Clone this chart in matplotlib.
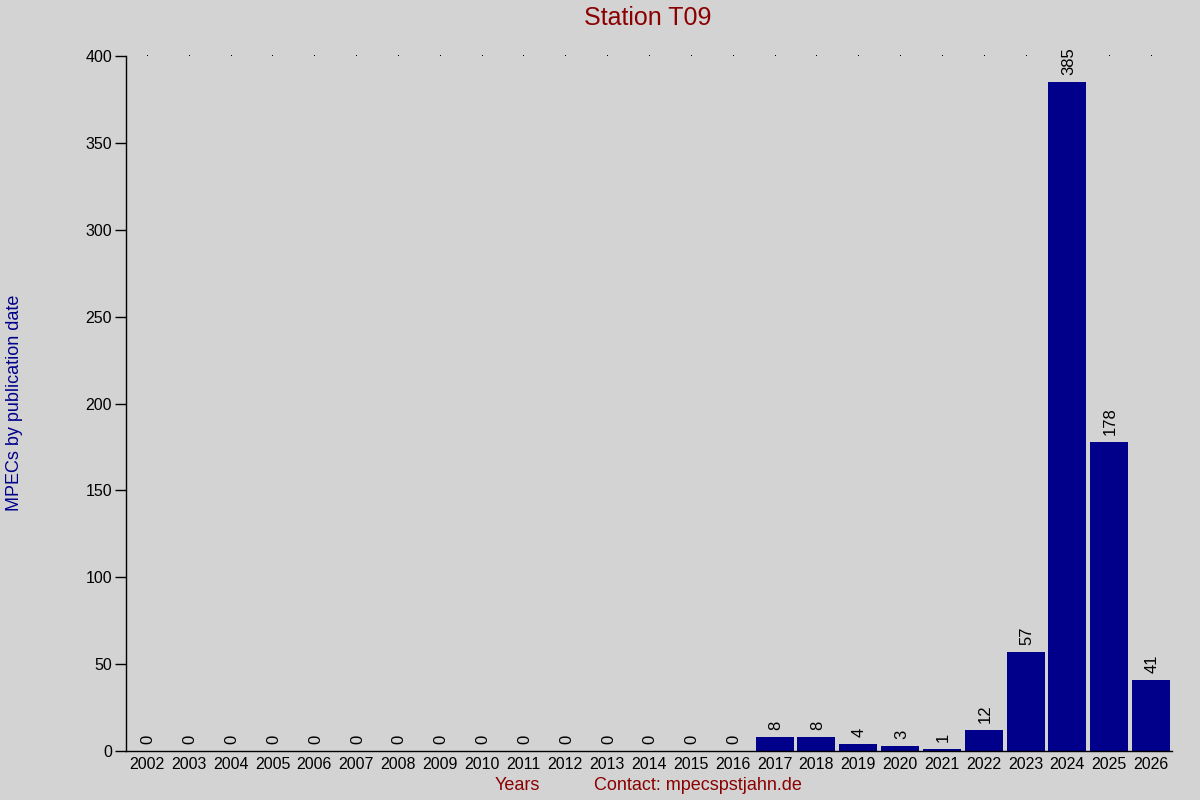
import matplotlib
matplotlib.use("Agg")
import matplotlib.pyplot as plt
import numpy as np

# data
years = [str(y) for y in range(2002, 2027)]
counts = [0, 0, 0, 0, 0, 0, 0, 0, 0, 0, 0, 0, 0, 0, 0,
          8, 8, 4, 3, 1, 12, 57, 385, 178, 41]
yticks = [0, 50, 100, 150, 200, 250, 300, 350, 400]

plt.rcParams['font.family'] = ['Liberation Sans', 'DejaVu Sans']

bg = '#d3d3d3'
fig = plt.figure(figsize=(12, 8), dpi=100, facecolor=bg)
ax = fig.add_axes([0.105, 0.06125, 0.8717, 0.86875])
ax.set_facecolor(bg)

x = np.arange(len(years))
ax.bar(x, counts, width=0.91, color='#00008b')

# value labels above each bar
for xi, c in zip(x, counts):
    ax.text(xi + 0.03, c + 4, str(c), rotation=90, ha='center', va='bottom',
            fontsize=12, color='black')

# small dots along the top
ax.plot(x, [400] * len(x), ',', color='black', clip_on=False, zorder=3)

ax.set_xlim(-0.5, len(years) - 0.5)
ax.set_ylim(0, 400)
ax.set_xticks(x)
ax.set_xticklabels(years, fontsize=11.5)
ax.set_yticks(yticks)
ax.set_yticklabels([str(t) for t in yticks], fontsize=11.5)
ax.tick_params(axis='x', length=0, pad=4)
ax.tick_params(axis='y', length=8, width=1, direction='out', pad=2)

for s in ['top', 'right']:
    ax.spines[s].set_visible(False)
ax.spines['left'].set_linewidth(1)
ax.spines['bottom'].set_linewidth(1)

fig.text(0.54, 0.978, 'Station T09', ha='center', va='center',
         fontsize=18, color='#8b0000')
fig.text(0.0125, 0.496, 'MPECs by publication date', rotation=90,
         ha='center', va='center', fontsize=13, color='#00008b')
fig.text(0.431, 0.0175, 'Years', ha='center', va='center',
         fontsize=13, color='#8b0000')
fig.text(0.582, 0.0175, 'Contact: mpecspstjahn.de', ha='center',
         va='center', fontsize=13, color='#8b0000')

fig.savefig('out.png', dpi=100, facecolor=bg)
